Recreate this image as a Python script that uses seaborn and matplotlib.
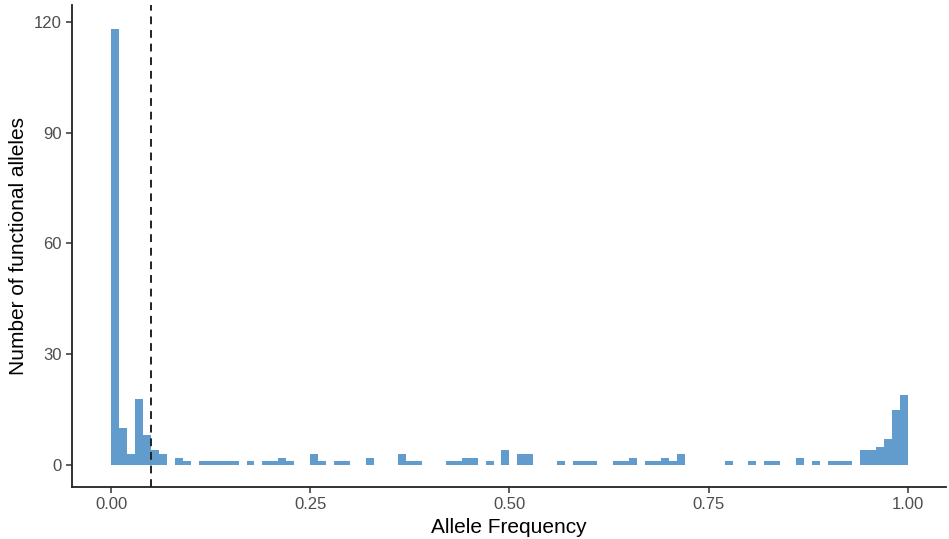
import numpy as np
import pandas as pd
import matplotlib
matplotlib.use("Agg")
import matplotlib.pyplot as plt
import seaborn as sns

# Histogram: 100 bins of width 0.01 from 0 to 1
bin_edges = np.linspace(0, 1, 101)
counts = [
    118, 10, 3, 18, 8, 4, 3, 0, 2, 1,      # 0.00 - 0.10
    0, 1, 1, 1, 1, 1, 0, 1, 0, 1,          # 0.10 - 0.20
    1, 2, 1, 0, 0, 3, 1, 0, 1, 1,          # 0.20 - 0.30
    0, 0, 2, 0, 0, 0, 3, 1, 1, 0,          # 0.30 - 0.40
    0, 0, 1, 1, 2, 2, 0, 1, 0, 4,          # 0.40 - 0.50
    0, 3, 3, 0, 0, 0, 1, 0, 1, 1,          # 0.50 - 0.60
    1, 0, 0, 1, 1, 2, 0, 1, 1, 2,          # 0.60 - 0.70
    1, 3, 0, 0, 0, 0, 0, 1, 0, 0,          # 0.70 - 0.80
    1, 0, 1, 1, 0, 0, 2, 0, 1, 0,          # 0.80 - 0.90
    1, 1, 1, 0, 4, 4, 5, 7, 15, 19,        # 0.90 - 1.00
]
cutoff = 0.05

x_ticks = [0, 0.25, 0.5, 0.75, 1.0]
x_labels = ["0.00", "0.25", "0.50", "0.75", "1.00"]
y_ticks = [0, 30, 60, 90, 120]

df = pd.DataFrame({
    "freq": (bin_edges[:-1] + bin_edges[1:]) / 2,
    "n": counts,
})

sns.set_theme(style="ticks")
plt.rcParams["font.family"] = ["Liberation Sans", "DejaVu Sans"]

fig = plt.figure(figsize=(9.49, 5.39), dpi=100)
ax = fig.add_axes([0.0759, 0.0965, 0.921, 0.894])

sns.histplot(
    data=df, x="freq", weights="n", binwidth=0.01, binrange=(0, 1),
    color="#3F86C2", alpha=0.82, edgecolor="none", linewidth=0, ax=ax,
)
ax.axvline(cutoff, color="#222222", linestyle=(0, (4, 3)), linewidth=1.4)

ax.set_xlim(-0.049, 1.048)
ax.set_ylim(-5.95, 124.5)
ax.set_xticks(x_ticks)
ax.set_xticklabels(x_labels)
ax.set_yticks(y_ticks)

ax.set_xlabel("Allele Frequency", fontsize=15, color="black")
ax.set_ylabel("Number of functional alleles", fontsize=15, color="black")
ax.tick_params(axis="both", labelsize=12, labelcolor="#4D4D4D", color="#333333",
               length=4, width=1.1, direction="out")
for side in ["left", "bottom"]:
    ax.spines[side].set_color("#222222")
    ax.spines[side].set_linewidth(1.3)
sns.despine(ax=ax)

fig.savefig("out.png", dpi=100)
plt.close(fig)
